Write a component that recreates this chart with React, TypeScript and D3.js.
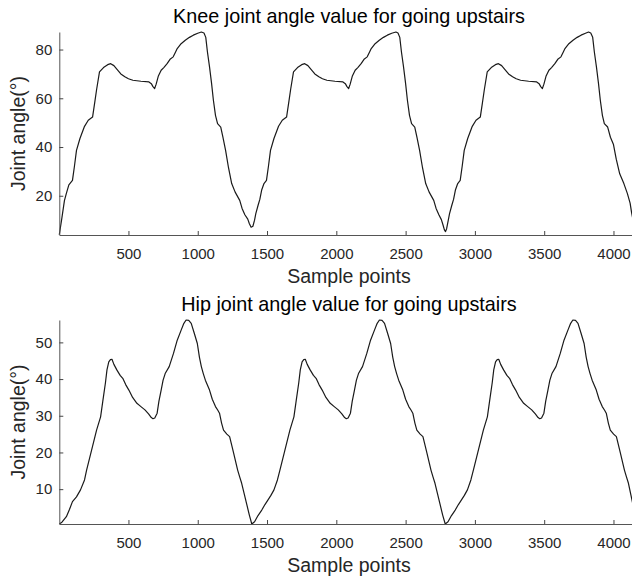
import React, { useEffect, useRef } from 'react';
import * as d3 from 'd3';

// sample index vs knee angle (deg), cycle by cycle
const kneeCycle1: [number, number][] = [
  [1, 4], [20, 11], [38, 18], [52, 21], [70, 24.5], [96, 26.3], [110, 32], [125, 38.6], [150, 43.5],
  [183, 48.5], [210, 51], [241, 52.3], [256, 58], [270, 63.5], [291, 70.8], [320, 72.6], [350, 73.8],
  [372, 74.2], [395, 73.4], [416, 72], [445, 70], [474, 68.8], [500, 68], [532, 67.4], [590, 67],
  [648, 66.7], [665, 66], [677, 64.8], [689, 64], [700, 65.8], [715, 69], [736, 71.5], [755, 72.6],
  [779, 74.2], [800, 76], [823, 77], [840, 79], [852, 80.4], [880, 82.4], [910, 83.8], [940, 85],
  [968, 85.9], [1000, 86.7], [1026, 87.2], [1045, 86.8], [1058, 85], [1070, 79], [1085, 72.9],
  [1100, 66], [1113, 59.2], [1128, 53], [1143, 49.6], [1166, 48.2], [1182, 44], [1201, 38.6],
  [1222, 31.5], [1245, 25], [1270, 21.5], [1303, 18.1], [1320, 14.8], [1340, 12.2], [1361, 10.4],
  [1372, 8.6], [1385, 7.1], [1398, 7.5]
];
const kneeCycle2: [number, number][] = [
  [1410, 10], [1419, 12.7], [1435, 16], [1448, 18.5], [1462, 22.5], [1478, 25], [1496, 26.3],
  [1510, 32], [1525, 38.6], [1550, 43.5], [1583, 48.5], [1610, 51], [1641, 52.3], [1656, 58],
  [1670, 63.5], [1691, 70.8], [1720, 72.6], [1750, 73.8], [1772, 74.2], [1795, 73.4], [1816, 72],
  [1845, 70], [1874, 68.8], [1900, 68], [1932, 67.4], [1990, 67], [2048, 66.7], [2065, 66],
  [2077, 64.8], [2089, 64], [2100, 65.8], [2115, 69], [2136, 71.5], [2155, 72.6], [2179, 74.2],
  [2200, 76], [2223, 77], [2240, 79], [2252, 80.4], [2280, 82.4], [2310, 83.8], [2340, 85],
  [2368, 85.9], [2400, 86.7], [2430, 87.2], [2445, 86.8], [2458, 85], [2470, 79], [2485, 72.9],
  [2500, 66], [2513, 59.2], [2528, 53], [2543, 49.6], [2566, 48.2], [2582, 44], [2601, 38.6],
  [2622, 31.5], [2645, 25], [2670, 21.5], [2703, 18.1], [2720, 14.8], [2740, 12.2], [2758, 10.2],
  [2770, 8], [2780, 6], [2788, 5.3], [2796, 6.5]
];
const kneeCycle3: [number, number][] = [
  [2808, 10], [2817, 12.7], [2833, 16], [2846, 18.5], [2860, 22.5], [2876, 25], [2894, 26.3],
  [2908, 32], [2923, 38.6], [2948, 43.5], [2981, 48.5], [3008, 51], [3039, 52.3], [3054, 58],
  [3068, 63.5], [3089, 70.8], [3118, 72.6], [3148, 73.8], [3170, 74.2], [3193, 73.4], [3214, 72],
  [3243, 70], [3272, 68.8], [3298, 68], [3330, 67.4], [3388, 67], [3446, 66.7], [3463, 66],
  [3475, 64.8], [3487, 64], [3498, 65.8], [3513, 69], [3534, 71.5], [3553, 72.6], [3577, 74.2],
  [3598, 76], [3621, 77], [3638, 79], [3650, 80.4], [3678, 82.4], [3708, 83.8], [3738, 85],
  [3766, 85.9], [3798, 86.7], [3820, 87.2], [3836, 86.8], [3850, 85], [3862, 79], [3877, 72.9],
  [3892, 66], [3905, 59.2], [3920, 53], [3934, 49.6], [3958, 48.2], [3978, 44], [4000, 41],
  [4020, 35], [4045, 29], [4075, 25], [4100, 21], [4120, 17], [4131, 13], [4145, 9]
];

// sample index vs hip angle (deg)
const hipCycle1: [number, number][] = [
  [1, 0.5], [20, 1], [52, 2.5], [75, 4.5], [96, 6.6], [125, 7.9], [154, 9.8], [183, 12.5], [198, 15.2],
  [230, 20], [270, 26.1], [299, 29.7], [315, 34], [334, 39], [345, 42.5], [358, 44.7], [370, 45.3],
  [381, 45.4], [395, 44], [416, 42.5], [440, 41], [459, 40.2], [480, 38.5], [503, 37], [530, 35],
  [561, 33.4], [590, 32.5], [619, 31.6], [645, 30.5], [665, 29.5], [677, 29.2], [690, 29.4],
  [707, 30.7], [720, 34], [736, 37], [750, 39.7], [765, 41.5], [794, 43.4], [825, 47], [852, 50.6],
  [881, 53.4], [900, 55.2], [916, 56.1], [935, 56], [953, 55.2], [975, 52.5], [997, 49.7],
  [1012, 46], [1026, 43.4], [1040, 41.5], [1055, 39.7], [1085, 37], [1105, 34.5], [1128, 32.5],
  [1145, 31.5], [1157, 30.7], [1172, 28], [1186, 26.1], [1210, 25], [1230, 24.3], [1245, 22],
  [1259, 19.8], [1288, 15.2], [1302, 13.4], [1317, 11.6], [1335, 8.8], [1352, 6.1], [1372, 3],
  [1390, 0.5]
];
const hipCycle2: [number, number][] = [
  [1410, 1.1], [1435, 2.8], [1462, 4.3], [1485, 5.8], [1506, 7], [1528, 8.3], [1550, 9.8],
  [1575, 12.5], [1593, 15.2], [1625, 20], [1665, 26.1], [1694, 29.7], [1710, 34], [1729, 39],
  [1740, 42.5], [1753, 44.7], [1765, 45.3], [1776, 45.4], [1790, 44], [1811, 42.5], [1835, 41],
  [1854, 40.2], [1875, 38.5], [1898, 37], [1925, 35], [1956, 33.4], [1985, 32.5], [2014, 31.6],
  [2040, 30.5], [2060, 29.5], [2072, 29.2], [2085, 29.4], [2102, 30.7], [2115, 34], [2131, 37],
  [2145, 39.7], [2160, 41.5], [2189, 43.4], [2220, 47], [2247, 50.6], [2276, 53.4], [2295, 55.2],
  [2311, 56.1], [2330, 56], [2348, 55.2], [2370, 52.5], [2392, 49.7], [2407, 46], [2421, 43.4],
  [2435, 41.5], [2450, 39.7], [2480, 37], [2500, 34.5], [2523, 32.5], [2540, 31.5], [2552, 30.7],
  [2567, 28], [2581, 26.1], [2605, 25], [2625, 24.3], [2640, 22], [2654, 19.8], [2683, 15.2],
  [2697, 13.4], [2712, 11.6], [2730, 8.8], [2747, 6.1], [2767, 3], [2786, 0.5]
];
const hipCycle3: [number, number][] = [
  [2806, 1.1], [2831, 2.8], [2858, 4.3], [2881, 5.8], [2902, 7], [2924, 8.3], [2946, 9.8],
  [2971, 12.5], [2989, 15.2], [3021, 20], [3061, 26.1], [3090, 29.7], [3106, 34], [3125, 39],
  [3136, 42.5], [3149, 44.7], [3161, 45.3], [3172, 45.4], [3186, 44], [3207, 42.5], [3231, 41],
  [3250, 40.2], [3271, 38.5], [3294, 37], [3321, 35], [3352, 33.4], [3381, 32.5], [3410, 31.6],
  [3436, 30.5], [3456, 29.5], [3468, 29.2], [3481, 29.4], [3498, 30.7], [3511, 34], [3527, 37],
  [3541, 39.7], [3556, 41.5], [3585, 43.4], [3616, 47], [3643, 50.6], [3672, 53.4], [3691, 55.2],
  [3707, 56.1], [3726, 56], [3744, 55.2], [3766, 52.5], [3788, 49.7], [3803, 46], [3817, 43.4],
  [3831, 41.5], [3846, 39.7], [3876, 37], [3896, 34.5], [3919, 32.5], [3936, 31.5], [3948, 30.7],
  [3963, 28], [3977, 26.1], [4001, 25], [4021, 24.3], [4036, 22], [4050, 19.8], [4079, 15.2],
  [4093, 13.4], [4108, 11.6], [4126, 8.4], [4145, 5]
];

const xTicks = [500, 1000, 1500, 2000, 2500, 3000, 3500, 4000];
const kneeTicks = [20, 40, 60, 80];
const hipTicks = [10, 20, 30, 40, 50];

const FONT = '"Liberation Sans", Arial, Helvetica, sans-serif';

export default function App() {
  const svgRef = useRef<SVGSVGElement>(null);

  useEffect(() => {
    const width = 632;
    const height = 581;
    const left = 59.3;
    const right = 638.7;

    const svg = d3.select(svgRef.current).attr('width', width).attr('height', height);
    svg.selectAll('*').remove();

    const x = d3.scaleLinear().domain([1, 4182]).range([left, right]);

    const panels = [
      {
        data: [...kneeCycle1, ...kneeCycle2, ...kneeCycle3],
        yDomain: [3.9, 87.2], ticks: kneeTicks, top: 32, bottom: 235,
        title: 'Knee joint angle value for going upstairs', titleY: 23
      },
      {
        data: [...hipCycle1, ...hipCycle2, ...hipCycle3],
        yDomain: [0.5, 56.1], ticks: hipTicks, top: 320, bottom: 524,
        title: 'Hip joint angle value for going upstairs', titleY: 311
      }
    ];

    panels.forEach((p) => {
      const y = d3.scaleLinear().domain(p.yDomain).range([p.bottom, p.top]);

      const line = d3.line<[number, number]>()
        .x(d => x(d[0]))
        .y(d => y(d[1]));

      svg.append('path')
        .datum(p.data)
        .attr('d', line)
        .attr('fill', 'none')
        .attr('stroke', '#1a1a1a')
        .attr('stroke-width', 1.2)
        .attr('stroke-linejoin', 'round');

      // x axis, ticks point inward like matlab
      const gx = svg.append('g')
        .attr('transform', `translate(0,${p.bottom})`)
        .call(d3.axisBottom(x).tickValues(xTicks).tickFormat(d3.format('d'))
          .tickSizeInner(-4).tickSizeOuter(0).tickPadding(13));

      const gy = svg.append('g')
        .attr('transform', `translate(${left},0)`)
        .call(d3.axisLeft(y).tickValues(p.ticks).tickFormat(d3.format('d'))
          .tickSizeInner(-4).tickSizeOuter(0).tickPadding(7));

      [gx, gy].forEach((g) => {
        g.attr('font-family', FONT).attr('font-size', 15);
        g.selectAll('path').attr('stroke', '#555');
        g.selectAll('line').attr('stroke', '#444');
        g.selectAll('text').attr('fill', '#262626');
      });

      svg.append('text')
        .attr('x', 349)
        .attr('y', p.titleY)
        .attr('text-anchor', 'middle')
        .attr('font-family', FONT)
        .attr('font-size', 19.8)
        .attr('fill', '#000')
        .text(p.title);

      svg.append('text')
        .attr('x', 349)
        .attr('y', p.bottom + 48)
        .attr('text-anchor', 'middle')
        .attr('font-family', FONT)
        .attr('font-size', 19.5)
        .attr('fill', '#262626')
        .text('Sample points');

      svg.append('text')
        .attr('transform', `translate(25,${(p.top + p.bottom) / 2}) rotate(-90)`)
        .attr('text-anchor', 'middle')
        .attr('font-family', FONT)
        .attr('font-size', 19.5)
        .attr('fill', '#262626')
        .text('Joint angle(°)');
    });
  }, []);

  return (
    <div style={{ position: 'absolute', left: 0, top: 0 }}>
      <svg ref={svgRef}></svg>
    </div>
  );
}
